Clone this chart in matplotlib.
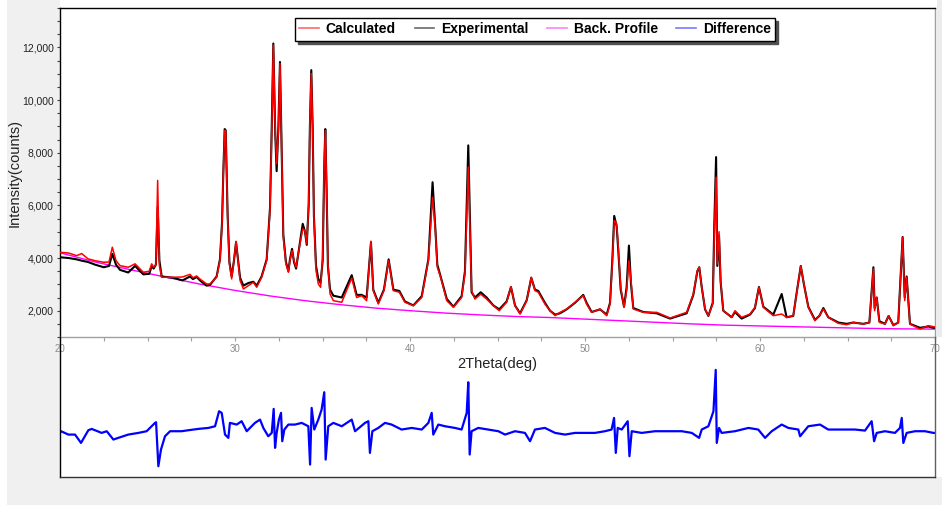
import matplotlib
matplotlib.use("Agg")
import matplotlib.pyplot as plt
from matplotlib.lines import Line2D
from matplotlib.patches import Rectangle
from matplotlib.ticker import MultipleLocator, StrMethodFormatter
from matplotlib import font_manager

# ---------------- data ----------------
two_theta = [20.00, 20.50, 20.95, 21.24, 21.60, 22.00, 22.50, 22.80, 22.99, 23.20,
             23.43, 23.90, 24.29, 24.76, 25.10, 25.24, 25.35, 25.48, 25.58, 25.68,
             25.81, 26.48, 27.00, 27.43, 27.60, 27.81, 28.00, 28.38, 28.57, 28.95,
             29.14, 29.26, 29.33, 29.41, 29.47, 29.52, 29.58, 29.68, 29.81, 29.94,
             30.06, 30.17, 30.29, 30.48, 30.76, 31.05, 31.24, 31.52, 31.81, 32.00,
             32.10, 32.19, 32.30, 32.38, 32.48, 32.57, 32.67, 32.76, 32.91, 33.05,
             33.14, 33.26, 33.37, 33.49, 33.68, 33.87, 34.00, 34.10, 34.21, 34.28,
             34.36, 34.44, 34.51, 34.63, 34.76, 34.89, 35.01, 35.10, 35.16, 35.24,
             35.31, 35.43, 35.62, 36.10, 36.67, 36.95, 37.24, 37.52, 37.77, 37.90,
             38.19, 38.51, 38.78, 39.05, 39.39, 39.71, 40.19, 40.67, 41.05, 41.29,
             41.45, 41.56, 41.75, 42.10, 42.48, 42.95, 43.14, 43.33, 43.52, 43.71,
             44.04, 44.38, 44.76, 45.10, 45.52, 45.77, 46.00, 46.29, 46.67, 46.93,
             47.14, 47.33, 47.71, 48.00, 48.29, 48.57, 48.95, 49.43, 49.90, 50.09,
             50.38, 50.86, 51.24, 51.43, 51.56, 51.67, 51.81, 51.90, 52.04, 52.23,
             52.38, 52.51, 52.63, 52.76, 53.33, 54.10, 54.86, 55.81, 56.19, 56.42,
             56.53, 56.67, 56.86, 57.05, 57.30, 57.39, 57.49, 57.56, 57.66, 57.75,
             57.90, 58.38, 58.57, 58.95, 59.43, 59.71, 59.94, 60.19, 60.76, 61.24,
             61.52, 61.90, 62.10, 62.33, 62.51, 62.76, 63.14, 63.39, 63.62, 63.90,
             64.48, 64.95, 65.33, 65.90, 66.25, 66.48, 66.55, 66.67, 66.82, 67.14,
             67.35, 67.62, 67.90, 68.15, 68.27, 68.38, 68.57, 69.14, 69.62, 69.90,
             70.00]

calculated = [4220, 4190, 4090, 4170, 3970, 3900, 3840, 3850, 4410, 3900,
              3710, 3650, 3780, 3460, 3500, 3780, 3650, 3750, 6950, 3700,
              3270, 3270, 3280, 3380, 3250, 3320, 3200, 3015, 3015, 3269,
              3904, 5300, 7204, 8853, 8790, 7330, 5553, 3777, 3206, 3904,
              4638, 3904, 3142, 2825, 2952, 3079, 2888, 3269, 3904, 5807,
              8853, 12090, 8853, 7585, 8853, 11390, 7838, 4790, 3777, 3460,
              3904, 4284, 3904, 3650, 4411, 5110, 5045, 4538, 6061, 9107,
              11011, 8853, 5553, 3523, 3015, 2888, 4030, 7585, 8853, 6568,
              3777, 2634, 2380, 2320, 3240, 2500, 2570, 2380, 4640, 2760,
              2255, 2760, 3900, 2760, 2700, 2320, 2190, 2500, 3900, 6310,
              5045, 3650, 3270, 2380, 2130, 2500, 3400, 7460, 2760, 2440,
              2630, 2440, 2190, 2000, 2320, 2910, 2190, 1875, 2380, 3270,
              2760, 2700, 2255, 2000, 1810, 1935, 2063, 2317, 2571, 2254,
              1937, 2063, 1810, 2254, 3777, 5426, 5300, 4410, 2888, 2127,
              2761, 3903, 3142, 2063, 1937, 1937, 1720, 1937, 2634, 3523,
              3650, 2888, 2063, 1810, 2254, 5045, 7074, 3777, 5000, 3142,
              2000, 1746, 2000, 1746, 1873, 2127, 2888, 2127, 1810, 1873,
              1746, 1810, 2700, 3700, 3015, 2127, 1619, 1810, 2063, 1746,
              1518, 1467, 1556, 1492, 1556, 3587, 2000, 2508, 1556, 1492,
              1810, 1429, 1556, 4790, 2381, 3269, 1492, 1302, 1429, 1391,
              1380]

experimental = [4030, 4000, 3950, 3900, 3850, 3750, 3650, 3700, 4160, 3750,
                3550, 3450, 3700, 3380, 3400, 3700, 3600, 3750, 5930, 3900,
                3300, 3250, 3150, 3300, 3200, 3280, 3150, 2950, 2980, 3300,
                3950, 5350, 7200, 8900, 8850, 7300, 5600, 3850, 3300, 3900,
                4600, 3950, 3250, 2950, 3050, 3100, 2950, 3300, 3950, 5900,
                9000, 12150, 8700, 7300, 9000, 11450, 7900, 4900, 3850, 3500,
                3950, 4350, 3850, 3600, 4450, 5300, 5000, 4500, 6000, 9000,
                11140, 8900, 5600, 3700, 3200, 3050, 3900, 7500, 8900, 6400,
                3700, 2800, 2570, 2500, 3350, 2600, 2600, 2500, 4600, 2800,
                2300, 2800, 3950, 2800, 2750, 2350, 2200, 2550, 3950, 6880,
                5100, 3750, 3300, 2450, 2150, 2550, 3500, 8280, 2700, 2500,
                2700, 2500, 2200, 2050, 2350, 2900, 2200, 1900, 2400, 3250,
                2800, 2750, 2300, 2000, 1850, 1900, 2050, 2300, 2600, 2300,
                1950, 2050, 1850, 2300, 3900, 5600, 5200, 4300, 2800, 2150,
                2900, 4474, 3000, 2100, 1950, 1900, 1700, 1900, 2600, 3500,
                3650, 2900, 2050, 1800, 2300, 5300, 7835, 3700, 4850, 3100,
                2000, 1750, 1950, 1700, 1850, 2100, 2900, 2150, 1850, 2634,
                1750, 1800, 2700, 3700, 3000, 2150, 1650, 1800, 2100, 1750,
                1550, 1500, 1550, 1500, 1550, 3650, 2100, 2500, 1600, 1500,
                1800, 1450, 1550, 4800, 2500, 3300, 1500, 1350, 1400, 1350,
                1350]

two_theta_bg = [20, 22, 24, 26, 28, 30, 32, 34, 36, 38, 40, 42, 44, 46, 48,
                50, 52, 54, 56, 58, 60, 62, 64, 66, 68, 70]
background = [4200, 3850, 3560, 3280, 3010, 2770, 2560, 2380, 2230, 2100, 2000,
              1910, 1840, 1780, 1740, 1680, 1620, 1560, 1500, 1450, 1420, 1390,
              1360, 1330, 1310, 1300]

two_theta_diff = [20.00, 20.06, 20.48, 20.86, 21.20, 21.62, 21.81, 22.38, 22.67, 23.05,
                  23.33, 23.90, 24.48, 24.95, 25.43, 25.49, 25.62, 25.77, 26.00, 26.29,
                  26.95, 27.33, 27.90, 28.48, 28.86, 29.09, 29.24, 29.43, 29.62, 29.71,
                  30.10, 30.38, 30.67, 31.14, 31.43, 31.62, 31.90, 32.10, 32.21, 32.29,
                  32.38, 32.51, 32.63, 32.70, 32.82, 33.05, 33.43, 33.81, 34.19, 34.29,
                  34.38, 34.53, 34.76, 34.95, 35.10, 35.18, 35.33, 35.62, 36.10, 36.67,
                  36.86, 37.43, 37.62, 37.71, 37.85, 38.19, 38.57, 38.95, 39.52, 40.10,
                  40.67, 41.05, 41.24, 41.33, 41.62, 42.00, 42.57, 42.95, 43.24, 43.33,
                  43.41, 43.52, 43.90, 44.48, 45.05, 45.43, 46.00, 46.57, 46.86, 47.14,
                  47.71, 48.29, 48.86, 49.43, 50.00, 50.57, 51.14, 51.52, 51.66, 51.76,
                  51.87, 52.10, 52.44, 52.54, 52.67, 53.24, 54.00, 54.76, 55.53, 56.10,
                  56.52, 56.67, 57.05, 57.34, 57.47, 57.53, 57.66, 57.81, 58.57, 59.34,
                  59.90, 60.29, 60.67, 61.24, 61.62, 62.19, 62.29, 62.76, 63.43, 63.90,
                  64.67, 65.43, 66.00, 66.38, 66.52, 66.67, 67.14, 67.71, 68.00, 68.10,
                  68.19, 68.38, 68.86, 69.43, 69.91, 70.00]
difference = [0, 24, -24, -24, -143, 38, 57, 0, 24, -95,
              -71, -24, 0, 24, 143, 152, -476, -238, -48, 24,
              24, 38, 57, 71, 95, 309, 286, -24, -71, 143,
              119, 167, 24, 143, 190, 71, -48, 0, 343, -214,
              0, 190, 286, -119, 48, 119, 119, 143, 95, -452,
              357, 48, 190, 333, 581, -381, 95, 143, 95, 190,
              24, 143, 167, -286, 24, 71, 143, 119, 48, 71,
              48, 143, 286, -24, 119, 95, 71, 48, 286, 724,
              -309, 24, 71, 48, 24, -24, 24, 0, -119, 48,
              71, 0, -24, 0, 0, 0, 24, 48, 214, -286,
              71, 48, 167, -333, 24, 0, 24, 24, 24, 0,
              -71, 48, 95, 309, 900, -143, 71, 0, 24, 71,
              48, -71, 24, 119, 71, 48, -48, 95, 119, 48,
              48, 48, 33, 167, -119, 0, 24, 0, 71, 214,
              -143, 0, 24, 24, 0, 0]

legend_labels = ["Calculated", "Experimental", "Back. Profile", "Difference"]

# ---------------- figure ----------------
W, H = 942, 505
fig = plt.figure(figsize=(W / 100, H / 100), dpi=100)
fig.patch.set_facecolor("white")


def frect(x0, y0, x1, y1, color):
    # pixel coords measured from the top-left corner
    fig.add_artist(Rectangle((x0 / W, 1 - y1 / H), (x1 - x0) / W, (y1 - y0) / H,
                             transform=fig.transFigure, facecolor=color,
                             edgecolor="none", zorder=-10))


frect(7, 0, W, H, "#f0f0f0")
frect(60, 0, W, 477, "white")
frect(937, 0, W, 337, "#ececec")

available = {f.name for f in font_manager.fontManager.ttflist}
narrow = [f for f in ("Liberation Sans Narrow", "DejaVu Sans Condensed",
                      "Liberation Sans", "DejaVu Sans") if f in available] or ["DejaVu Sans"]
sans = [f for f in ("Liberation Sans", "DejaVu Sans") if f in available] or ["DejaVu Sans"]

ax1 = fig.add_axes([60 / W, 168 / H, 875 / W, 329 / H])
ax2 = fig.add_axes([60 / W, 28 / H, 875 / W, 140 / H])
ax1.set_facecolor("none")
ax2.set_facecolor("none")

ax1.plot(two_theta_bg, background, color="#ff00ff", lw=1.0, zorder=2)
ax1.plot(two_theta, experimental, color="black", lw=1.5, zorder=3)
ax1.plot(two_theta, calculated, color="#ff0000", lw=1.1, zorder=4)

ax1.set_xlim(20, 70)
ax1.set_ylim(1000, 13500)
ax1.xaxis.set_major_locator(MultipleLocator(10))
ax1.xaxis.set_minor_locator(MultipleLocator(2.5))
ax1.yaxis.set_minor_locator(MultipleLocator(500))
ax1.set_yticks([2000, 4000, 6000, 8000, 10000, 12000])
ax1.yaxis.set_major_formatter(StrMethodFormatter("{x:,.0f}"))
ax1.tick_params(axis="x", which="both", direction="out", length=3, width=0.8,
                color="#a0a0a0", labelcolor="#8c8c8c", labelsize=7, pad=2)
ax1.tick_params(axis="y", which="both", direction="out", length=2.5, width=0.8,
                color="#444444", labelcolor="#222222", labelsize=7.5, pad=2)
for lab in ax1.get_xticklabels():
    lab.set_family(narrow)
for lab in ax1.get_yticklabels():
    lab.set_family(sans)

for s in ("left", "top"):
    ax1.spines[s].set_color("black")
    ax1.spines[s].set_linewidth(1.0)
for s in ("right", "bottom"):
    ax1.spines[s].set_color("#a0a0a0")
    ax1.spines[s].set_linewidth(1.0)

ax2.plot(two_theta_diff, difference, color="#0000ff", lw=1.6)
ax2.set_xlim(20, 70)
ax2.set_ylim(-630, 1370)
ax2.set_xticks([])
ax2.set_yticks([])
ax2.spines["top"].set_visible(False)
ax2.spines["left"].set_color("black")
ax2.spines["bottom"].set_color("#333333")
ax2.spines["right"].set_color("#606060")
for s in ("left", "bottom", "right"):
    ax2.spines[s].set_linewidth(1.0)

fig.text(497.5 / W, 1 - 364 / H, "2Theta(deg)", ha="center", va="center",
         fontsize=10.5, family=narrow, color="#222222")
fig.text(15 / W, 1 - 172.5 / H, "Intensity(counts)", ha="center", va="center",
         rotation=90, fontsize=10.5, family=narrow, color="#222222")

handles = [Line2D([], [], color=c, lw=1.2) for c in
           ("#ff6a6a", "#6a6a6a", "#ff80ff", "#7a7aff")]
leg = ax1.legend(handles, legend_labels, ncol=4, loc="upper center",
                 bbox_to_anchor=(0.543, 0.97), borderaxespad=0,
                 frameon=True, fancybox=False,
                 shadow={"color": "#505050", "alpha": 1},
                 edgecolor="black", framealpha=1,
                 prop={"family": sans, "weight": "bold", "size": 10},
                 handlelength=1.4, handletextpad=0.5, columnspacing=1.35,
                 borderpad=0.32)
leg.get_frame().set_linewidth(1.0)

fig.savefig("out.png", dpi=100, facecolor=fig.get_facecolor())
